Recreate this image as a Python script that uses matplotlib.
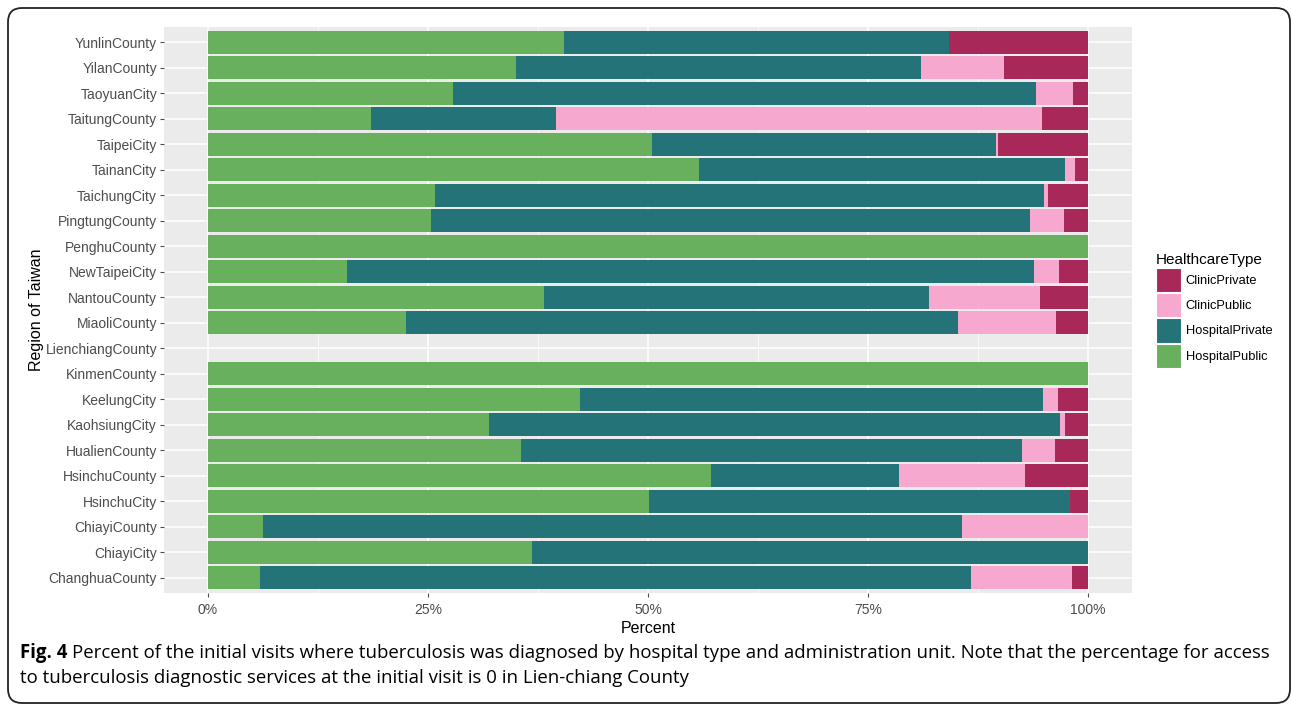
import matplotlib
matplotlib.use("Agg")
import matplotlib.pyplot as plt
import numpy as np
from matplotlib.patches import Patch, FancyBboxPatch
from matplotlib.ticker import PercentFormatter, MultipleLocator

# regions listed bottom -> top (alphabetical, as in the figure)
regions = ["ChanghuaCounty", "ChiayiCity", "ChiayiCounty", "HsinchuCity", "HsinchuCounty",
           "HualienCounty", "KaohsiungCity", "KeelungCity", "KinmenCounty", "LienchiangCounty",
           "MiaoliCounty", "NantouCounty", "NewTaipeiCity", "PenghuCounty", "PingtungCounty",
           "TaichungCity", "TainanCity", "TaipeiCity", "TaitungCounty", "TaoyuanCity",
           "YilanCounty", "YunlinCounty"]

# percent of initial visits by healthcare type
hospital_public = [5.9, 36.8, 6.2, 50.1, 57.2, 35.6, 31.9, 42.3, 100, 0, 22.5,
                   38.2, 15.8, 100, 25.3, 25.8, 55.8, 50.5, 18.5, 27.8, 35.0, 40.5]
hospital_private = [80.8, 63.2, 79.5, 47.9, 21.3, 56.9, 64.9, 52.6, 0, 0, 62.7,
                    43.7, 78.1, 0, 68.1, 69.2, 41.6, 39.0, 21.0, 66.3, 46.0, 43.7]
clinic_public = [11.5, 0, 14.3, 0, 14.3, 3.8, 0.6, 1.7, 0, 0, 11.2,
                 12.6, 2.8, 0, 3.9, 0.5, 1.1, 0.3, 55.3, 4.2, 9.5, 0]
clinic_private = [1.8, 0, 0, 2.0, 7.2, 3.7, 2.6, 3.4, 0, 0, 3.6,
                  5.5, 3.3, 0, 2.7, 4.5, 1.5, 10.2, 5.2, 1.7, 9.5, 15.8]

types = ["HospitalPublic", "HospitalPrivate", "ClinicPublic", "ClinicPrivate"]
colors = {"HospitalPublic": "#69B05E", "HospitalPrivate": "#237379",
          "ClinicPublic": "#F7A8CF", "ClinicPrivate": "#A8285A"}

fig = plt.figure(figsize=(12.92, 7.04), dpi=100)
W, H = 1292, 704
ax = fig.add_axes([164 / W, 1 - 593 / H, (1132 - 164) / W, (593 - 27) / H])
ax.set_facecolor("#EBEBEB")
for s in ax.spines.values():
    s.set_visible(False)

y = np.arange(len(regions))
left = np.zeros(len(regions))
for name, vals in zip(types, [hospital_public, hospital_private, clinic_public, clinic_private]):
    v = np.array(vals) / 100.0
    ax.barh(y, v, left=left, height=0.9, color=colors[name], zorder=3)
    left += v

ax.set_xlim(-0.05, 1.05)
ax.set_ylim(-0.6, len(regions) - 0.4)
ax.set_yticks(y)
ax.set_yticklabels(regions)
ax.xaxis.set_major_locator(MultipleLocator(0.25))
ax.xaxis.set_minor_locator(MultipleLocator(0.125))
ax.xaxis.set_major_formatter(PercentFormatter(1.0, decimals=0))
ax.grid(which="major", color="white", linewidth=1.1, zorder=1)
ax.grid(which="minor", axis="x", color="white", linewidth=0.5, zorder=1)
ax.set_axisbelow(True)
ax.tick_params(axis="both", which="major", colors="#4D4D4D", labelcolor="#4D4D4D",
               labelsize=10, length=3, width=0.8, pad=2)
ax.tick_params(axis="x", which="major", pad=4)
ax.tick_params(axis="both", which="minor", length=0)
for lab in ax.get_xticklabels() + ax.get_yticklabels():
    lab.set_family("Liberation Sans")

ax.set_xlabel("Percent", fontsize=11.5, family="Liberation Sans", labelpad=3)
ax.set_ylabel("Region of Taiwan", fontsize=11.5, family="Liberation Sans", labelpad=1)

handles = [Patch(facecolor=colors[t], edgecolor="white", linewidth=0.8, label=t)
           for t in ["ClinicPrivate", "ClinicPublic", "HospitalPrivate", "HospitalPublic"]]
leg = fig.legend(handles=handles, title="HealthcareType", loc="upper left",
                 bbox_to_anchor=(1156 / W, 1 - 253 / H), frameon=False,
                 handlelength=1.9, handleheight=2.5, labelspacing=0.08,
                 handletextpad=0.4, borderaxespad=0, borderpad=0,
                 prop={"family": "Liberation Sans", "size": 9.3},
                 title_fontproperties={"family": "Liberation Sans", "size": 11})
leg._legend_box.align = "left"

# caption
cap_size = 13.4
fig.canvas.draw()
r = fig.canvas.get_renderer()
t1 = fig.text(20 / W, 1 - 653 / H, "Fig. 4", fontsize=cap_size, family="Open Sans",
              fontweight="bold", va="center", ha="left")
bb = t1.get_window_extent(renderer=r)
fig.text((bb.x1 + 5) / W, 1 - 653 / H,
         "Percent of the initial visits where tuberculosis was diagnosed by hospital type and "
         "administration unit. Note that the percentage for access",
         fontsize=cap_size, family="Open Sans", va="center", ha="left")
fig.text(20 / W, 1 - 678 / H,
         "to tuberculosis diagnostic services at the initial visit is 0 in Lien-chiang County",
         fontsize=cap_size, family="Open Sans", va="center", ha="left")

# rounded frame around the figure
frame = FancyBboxPatch((8, 1), 1282, 695, boxstyle="round,pad=0,rounding_size=14",
                       transform=None, facecolor="none", edgecolor="#222222",
                       linewidth=1.3, clip_on=False)
fig.patches.append(frame)

fig.savefig("out.png", dpi=100)
